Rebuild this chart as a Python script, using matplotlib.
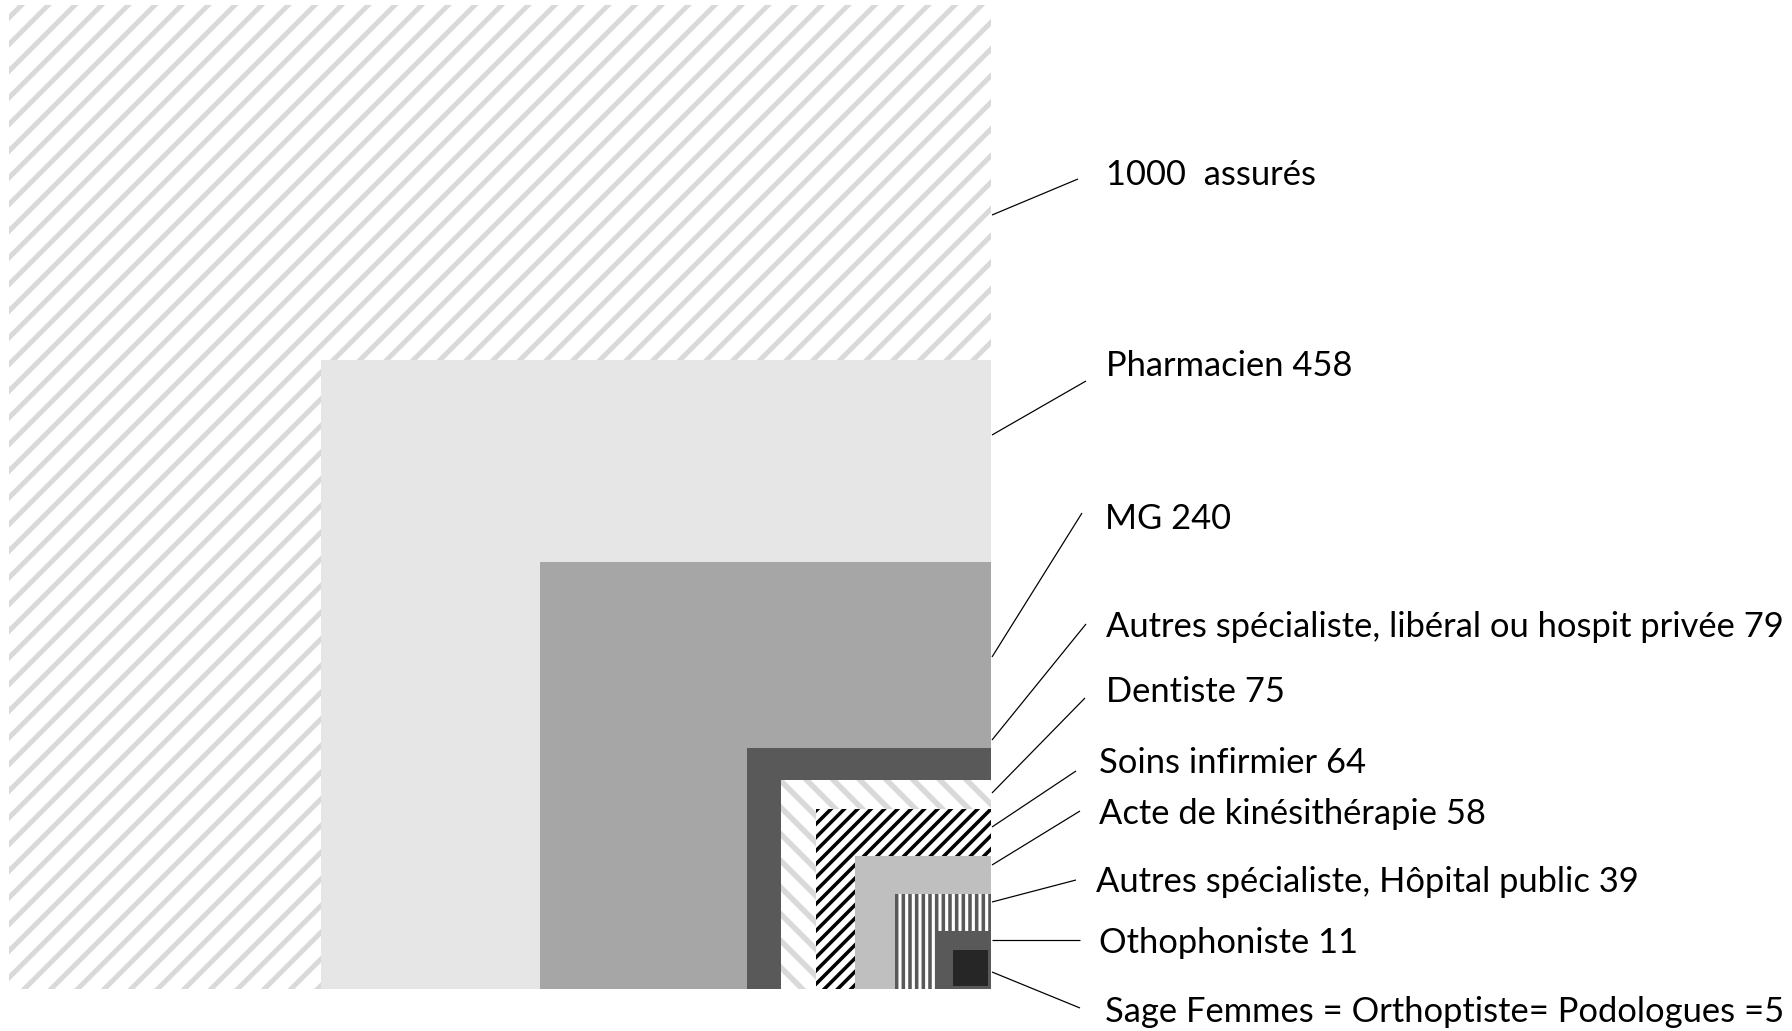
"""
Nested squares : number of insured people who saw each kind of health professional
(out of 1000 insured)
"""

import matplotlib
matplotlib.use("Agg")
import matplotlib.pyplot as plt
from matplotlib.patches import Rectangle


## data
labels = ["1000  assurés",
          "Pharmacien 458",
          "MG 240",
          "Autres spécialiste, libéral ou hospit privée 79",
          "Dentiste 75",
          "Soins infirmier 64",
          "Acte de kinésithérapie 58",
          "Autres spécialiste, Hôpital public 39",
          "Othophoniste 11",
          "Sage Femmes = Orthoptiste= Podologues =5"]
values = [1000, 458, 240, 79, 75, 64, 58, 39, 11, 5]

## layout (pixels, the squares are drawn by hand in the original, not to scale)
widths = [982, 670, 451, 244, 210, 175, 136, 96, 55, 35]
heights = [984, 629, 427, 241, 209, 180, 133, 95, 58, 36]
offsets = [0, 0, 0, 0, 0, 0, 0, 0, 0, 3]
label_x = [1106, 1106, 1105, 1106, 1106, 1099, 1099, 1096, 1099, 1105]
label_y = [185, 376, 529, 637, 702, 773, 824, 892, 953, 1022]
line_start_y = [215, 435, 657, 740, 793, 827, 865, 902, 940, 972]
line_end = [(1078, 179), (1086, 381), (1082, 513), (1086, 624), (1085, 698),
            (1076, 771), (1080, 811), (1076, 880), (1080, 940), (1080, 1008)]

## styles
faces = ["white", "#e6e6e6", "#a6a6a6", "#595959", "white",
         "white", "#bfbfbf", "white", "#595959", "#262626"]
hatch_colors = ["#d9d9d9", None, None, None, "#d9d9d9",
                "black", None, "#595959", None, None]
hatches = ["/", None, None, None, "\\", "//", None, "||", None, None]
hatch_lw = [4.5, 0, 0, 0, 5.0, 3.2, 0, 3.2, 0, 0]

DPI = 80
W, H = 1792, 1031
RIGHT, BOTTOM = 991, 989


def main():
    fig = plt.figure(figsize=(W / DPI, H / DPI), dpi=DPI)
    ax = fig.add_axes([0, 0, 1, 1])
    ax.set_xlim(0, W)
    ax.set_ylim(H, 0)
    ax.axis("off")

    ## squares, all anchored on the bottom right corner
    for i in range(len(values)):
        x0 = RIGHT - offsets[i] - widths[i]
        y0 = BOTTOM - offsets[i] - heights[i]
        if hatches[i]:
            plt.rcParams["hatch.linewidth"] = hatch_lw[i]
            rect = Rectangle((x0, y0), widths[i], heights[i],
                             facecolor=faces[i], edgecolor=hatch_colors[i],
                             hatch=hatches[i], linewidth=0)
            if hasattr(rect, "set_hatch_linewidth"):
                rect.set_hatch_linewidth(hatch_lw[i])
        else:
            rect = Rectangle((x0, y0), widths[i], heights[i],
                             facecolor=faces[i], linewidth=0)
        ax.add_patch(rect)

    ## leader lines and labels
    fs = 34.5 * 72 / DPI
    for i in range(len(labels)):
        ax.plot([RIGHT + 1, line_end[i][0]], [line_start_y[i], line_end[i][1]],
                color="black", lw=1.1, solid_capstyle="butt")
        ax.text(label_x[i], label_y[i], labels[i], fontsize=fs,
                family=["Lato", "DejaVu Sans"], color="black",
                ha="left", va="baseline")

    fig.savefig("out.png", dpi=DPI, facecolor="white")


if __name__ == '__main__':
    main()
